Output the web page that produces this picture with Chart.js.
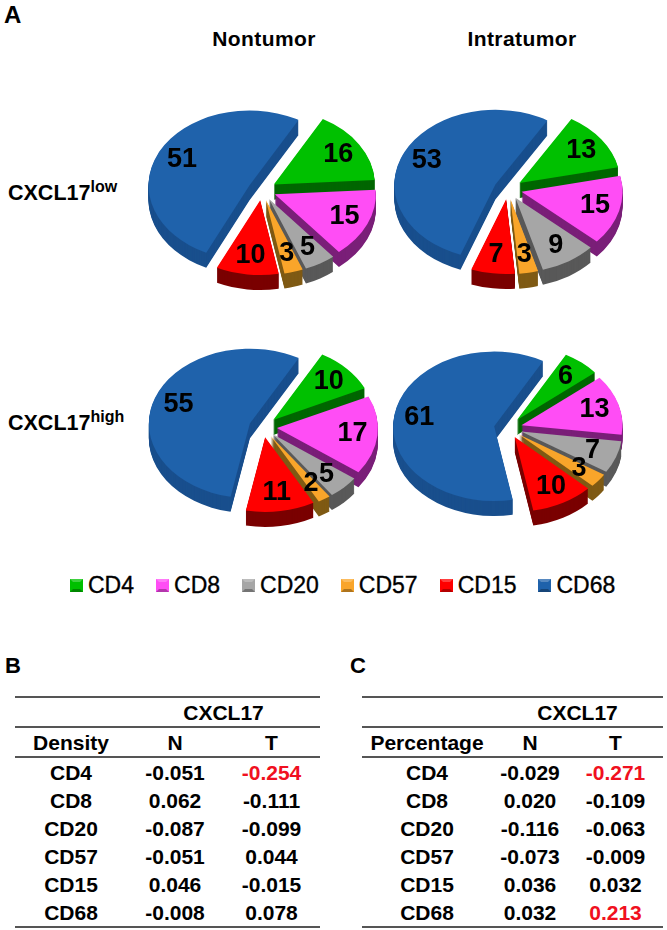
<!DOCTYPE html>
<html>
<head>
<meta charset="utf-8">
<script src="https://cdn.jsdelivr.net/npm/chart.js@4/dist/chart.umd.min.js"></script>
<style>
body { margin: 0; background: #fff; font-family: "Liberation Sans", Arial, sans-serif; color: #000; }
#page { position: relative; width: 667px; height: 930px; overflow: hidden; }
#page canvas { position: absolute; }
.txt { position: absolute; font-weight: bold; white-space: nowrap; line-height: 1; }
.head { font-size: 21px; transform: translateX(-50%); letter-spacing: .4px; }
.panel { font-size: 22px; }
.row { font-size: 21.5px; }
.row sup { font-size: 16px; vertical-align: 8px; line-height: 0; }
#legend { position: absolute; left: 70px; top: 572px; display: flex; gap: 22px; font-size: 23px; line-height: 26px; -webkit-text-stroke: .35px #000; }
#legend div { display: flex; align-items: center; gap: 5px; }
#legend i { width: 7px; height: 7px; border: 3px solid; }
table { position: absolute; top: 696px; border-collapse: collapse; table-layout: fixed; font-size: 21px; font-weight: bold; text-align: center; }
table td, table th { padding: 0; height: 28px; line-height: 1; }
thead tr:first-child { border-top: 2px solid #555; }
thead tr { border-bottom: 2px solid #555; }
tbody { border-bottom: 2px solid #555; }
.red { color: #f01020; }
</style>
</head>
<body>
<div id="page">
  <div class="txt panel" style="left:4px;top:3px;font-size:24px">A</div>
  <div class="txt head" style="left:264px;top:28px">Nontumor</div>
  <div class="txt head" style="left:522px;top:28px">Intratumor</div>
  <div class="txt row" style="left:8px;top:183px">CXCL17<sup>low</sup></div>
  <div class="txt row" style="left:8px;top:413px">CXCL17<sup>high</sup></div>
  <canvas id="pieNL" width="260" height="250" style="left:132px;top:65px"></canvas>
  <canvas id="pieTL" width="260" height="250" style="left:378px;top:64px"></canvas>
  <canvas id="pieNH" width="260" height="250" style="left:133px;top:302px"></canvas>
  <canvas id="pieTH" width="260" height="250" style="left:378px;top:303px"></canvas>
  <div id="legend"></div>
  <div class="txt panel" style="left:5px;top:655px">B</div>
  <div class="txt panel" style="left:350px;top:655px">C</div>
  <table id="tableB" style="left:15px;width:305px"></table>
  <table id="tableC" style="left:362px;width:301px"></table>
</div>

<script>
const cells = ['CD4', 'CD8', 'CD20', 'CD57', 'CD15', 'CD68'];

const nontumorLow = [16, 15, 5, 3, 10, 51];
const intratumorLow = [13, 15, 9, 3, 7, 53];
const nontumorHigh = [10, 17, 5, 2, 11, 55];
const intratumorHigh = [6, 13, 7, 3, 10, 61];

const densityN = ['-0.051', '0.062', '-0.087', '-0.051', '0.046', '-0.008'];
const densityT = ['-0.254', '-0.111', '-0.099', '0.044', '-0.015', '0.078'];
const percentN = ['-0.029', '0.020', '-0.116', '-0.073', '0.036', '0.032'];
const percentT = ['-0.271', '-0.109', '-0.063', '-0.009', '0.032', '0.213'];
const significant = ['-0.254', '-0.271', '0.213'];

const topColors = ['#00c000', '#ff4df5', '#a6a6a6', '#f9a52a', '#ff0000', '#1f62ab'];
const sideColors = ['#006600', '#7a1f78', '#595959', '#7f5a14', '#7a0000', '#194f8d'];

// look of the tilted pies
const tilt = 0.74;
const depth = 15;
const explode = 14;
const labelRadius = 90;

function placeArc(ctx, arc, drop) {
    const mid = (arc.startAngle + arc.endAngle) / 2;
    ctx.translate(arc.x + Math.cos(mid) * explode, arc.y + Math.sin(mid) * explode * tilt + drop);
    ctx.scale(1, tilt);
    ctx.translate(-arc.x, -arc.y);
}

// draws each slice through its own arc element, squashed and pulled out, with a dark side under it
const tiltedPie = {
    id: 'tiltedPie',
    beforeDatasetsDraw(chart) {
        const ctx = chart.ctx;
        const arcs = chart.getDatasetMeta(0).data;

        arcs.forEach((arc, i) => {
            const top = arc.options.backgroundColor;
            arc.options.backgroundColor = sideColors[i];
            for (let d = depth; d > 0; d--) {
                ctx.save();
                placeArc(ctx, arc, d);
                arc.draw(ctx);
                ctx.restore();
            }
            arc.options.backgroundColor = top;
        });

        arcs.forEach(arc => {
            ctx.save();
            placeArc(ctx, arc, 0);
            arc.draw(ctx);
            ctx.restore();
        });

        ctx.save();
        ctx.font = 'bold 27px "Liberation Sans"';
        ctx.fillStyle = '#000';
        ctx.textAlign = 'center';
        ctx.textBaseline = 'middle';
        arcs.forEach((arc, i) => {
            const mid = (arc.startAngle + arc.endAngle) / 2;
            const x = arc.x + Math.cos(mid) * labelRadius;
            const y = arc.y + Math.sin(mid) * labelRadius * tilt;
            ctx.fillText(chart.data.datasets[0].data[i], x, y);
        });
        ctx.restore();
        return false;
    }
};

function makePie(id, values, rotation) {
    new Chart(document.getElementById(id), {
        type: 'pie',
        data: {
            labels: cells,
            datasets: [{
                data: values,
                backgroundColor: topColors,
                borderWidth: 0,
                radius: 101
            }]
        },
        options: {
            responsive: false,
            animation: false,
            events: [],
            rotation: rotation,
            plugins: { legend: { display: false }, tooltip: { enabled: false } }
        },
        plugins: [tiltedPie]
    });
}

makePie('pieNL', nontumorLow, 29);
makePie('pieTL', intratumorLow, 31);
makePie('pieNH', nontumorHigh, 29);
makePie('pieTH', intratumorHigh, 29);

const legend = document.getElementById('legend');
cells.forEach((name, i) => {
    const item = document.createElement('div');
    const box = document.createElement('i');
    box.style.background = topColors[i];
    box.style.borderColor = topColors[i];
    box.style.borderTopColor = 'color-mix(in srgb, ' + topColors[i] + ' 75%, white)';
    box.style.borderBottomColor = 'color-mix(in srgb, ' + topColors[i] + ' 70%, black)';
    item.appendChild(box);
    item.appendChild(document.createTextNode(name));
    legend.appendChild(item);
});

function makeTable(id, title, colN, colT, widths) {
    const td = v => '<td' + (significant.includes(v) ? ' class="red"' : '') + '>' + v + '</td>';
    let html = '<colgroup>' + widths.map(w => '<col style="width:' + w + 'px">').join('') + '</colgroup>';
    html += '<thead><tr><th></th><th colspan="2">CXCL17</th></tr>';
    html += '<tr><th>' + title + '</th><th>N</th><th>T</th></tr></thead><tbody>';
    cells.forEach((name, i) => {
        html += '<tr><td>' + name + '</td>' + td(colN[i]) + td(colT[i]) + '</tr>';
    });
    document.getElementById(id).innerHTML = html + '</tbody>';
}

makeTable('tableB', 'Density', densityN, densityT, [112, 96, 97]);
makeTable('tableC', 'Percentage', percentN, percentT, [130, 76, 95]);
</script>
</body>
</html>
